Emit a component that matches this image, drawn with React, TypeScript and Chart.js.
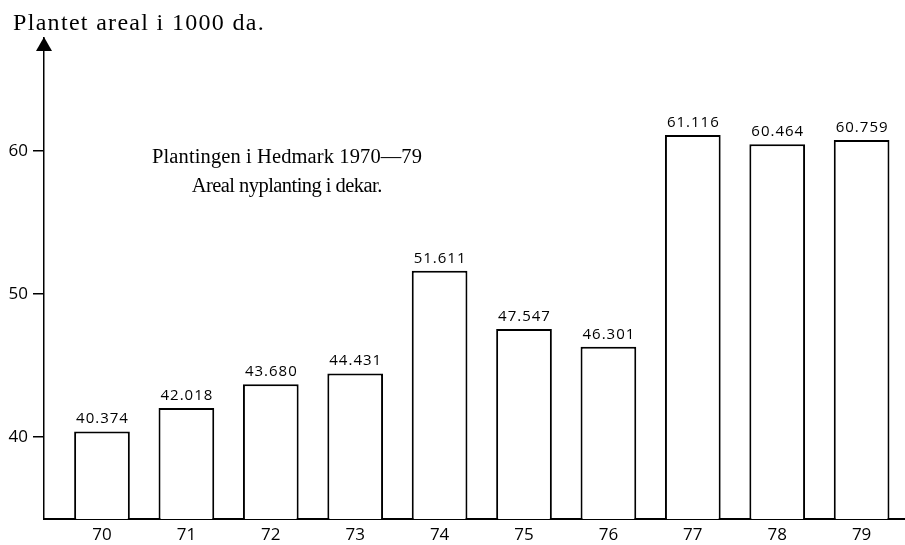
import React, { useEffect, useRef } from "react";
import { Chart, registerables } from "chart.js";

Chart.register(...registerables);

const years = ["70", "71", "72", "73", "74", "75", "76", "77", "78", "79"];
const plantedArea = [40.374, 42.018, 43.68, 44.431, 51.611, 47.547, 46.301, 61.116, 60.464, 60.759];
const yTickValues = [40, 50, 60];
const axisTitle = "Plantet areal i 1000 da.";
const chartTitleLines = ["Plantingen i Hedmark 1970\u201479", "Areal nyplanting i dekar."];

const SANS = "'Open Sans', 'DejaVu Sans', sans-serif";
const SERIF = "'Liberation Serif', 'DejaVu Serif', serif";

function fitText(ctx: any, text: string, x: number, y: number, width: number, align: string) {
  ctx.letterSpacing = "0px";
  const w = ctx.measureText(text).width;
  const ls = (width - w) / text.length;
  ctx.letterSpacing = ls + "px";
  ctx.textAlign = align;
  ctx.fillText(text, align === "center" ? x + ls / 2 : x, y);
  ctx.letterSpacing = "0px";
}

const overlayPlugin = {
  id: "overlay",
  afterDraw(chart: any) {
    const ctx = chart.ctx;
    const { left, top } = chart.chartArea;
    ctx.save();
    ctx.fillStyle = "#000";
    // arrow head on the y axis
    ctx.beginPath();
    ctx.moveTo(left, top - 1);
    ctx.lineTo(left - 8, top + 13);
    ctx.lineTo(left + 8, top + 13);
    ctx.closePath();
    ctx.fill();

    // value labels above bars
    const meta = chart.getDatasetMeta(0);
    ctx.font = "15px " + SANS;
    ctx.textBaseline = "alphabetic";
    ctx.textAlign = "center";
    ctx.letterSpacing = "1px";
    meta.data.forEach((bar: any, i: number) => {
      ctx.fillText(plantedArea[i].toFixed(3), bar.x + 0.5, bar.y - 8);
    });
    ctx.letterSpacing = "0px";

    // axis title
    ctx.font = "24px " + SERIF;
    fitText(ctx, axisTitle, 13, 30, 252, "left");

    // chart title
    ctx.font = "20.5px " + SERIF;
    fitText(ctx, chartTitleLines[0], 287, 163, 270, "center");
    fitText(ctx, chartTitleLines[1], 287, 192, 190, "center");
    ctx.restore();
  },
};

export default function App() {
  const ref = useRef<HTMLCanvasElement | null>(null);

  useEffect(() => {
    if (!ref.current) return;
    const chart = new Chart(ref.current, {
      type: "bar",
      data: {
        datasets: [
          {
            data: plantedArea.map((v, i) => ({ x: i, y: v })),
            backgroundColor: "#ffffff",
            borderColor: "#000000",
            borderWidth: 2,
            categoryPercentage: 1,
            barPercentage: 0.66,
          },
        ],
      },
      options: {
        animation: false,
        responsive: true,
        maintainAspectRatio: false,
        events: [],
        layout: { padding: { top: 38, left: 0, right: 0, bottom: 0 } },
        plugins: {
          legend: { display: false },
          tooltip: { enabled: false },
          title: { display: false },
        },
        scales: {
          x: {
            type: "linear",
            offset: false,
            min: -0.687,
            max: 9.514,
            afterBuildTicks: (s: any) => {
              s.ticks = years.map((_, i) => ({ value: i }));
            },
            afterFit: (s: any) => {
              s.height = 26;
            },
            grid: { display: false, drawTicks: false },
            border: { display: true, color: "#000", width: 2 },
            ticks: {
              autoSkip: false,
              maxRotation: 0,
              padding: 6,
              color: "#000",
              font: { family: SANS, size: 17 },
              callback: (_v: any, i: number) => years[i],
            },
          },
          y: {
            type: "linear",
            min: 34.25,
            max: 67.9,
            afterBuildTicks: (s: any) => {
              s.ticks = yTickValues.map((v) => ({ value: v }));
            },
            afterFit: (s: any) => {
              s.width = 44;
            },
            grid: {
              drawOnChartArea: false,
              drawTicks: true,
              tickLength: 11,
              color: "#000",
              lineWidth: 1.5,
            },
            border: { display: true, color: "#000", width: 1.5 },
            ticks: {
              padding: 5,
              color: "#000",
              font: { family: SANS, size: 17 },
              callback: (v: any) => String(v),
            },
          },
        },
      },
      plugins: [overlayPlugin],
    } as any);
    return () => chart.destroy();
  }, []);

  return (
    <div style={{ position: "fixed", left: 0, top: 0, width: 905, height: 545, background: "#fff" }}>
      <canvas ref={ref} />
    </div>
  );
}
